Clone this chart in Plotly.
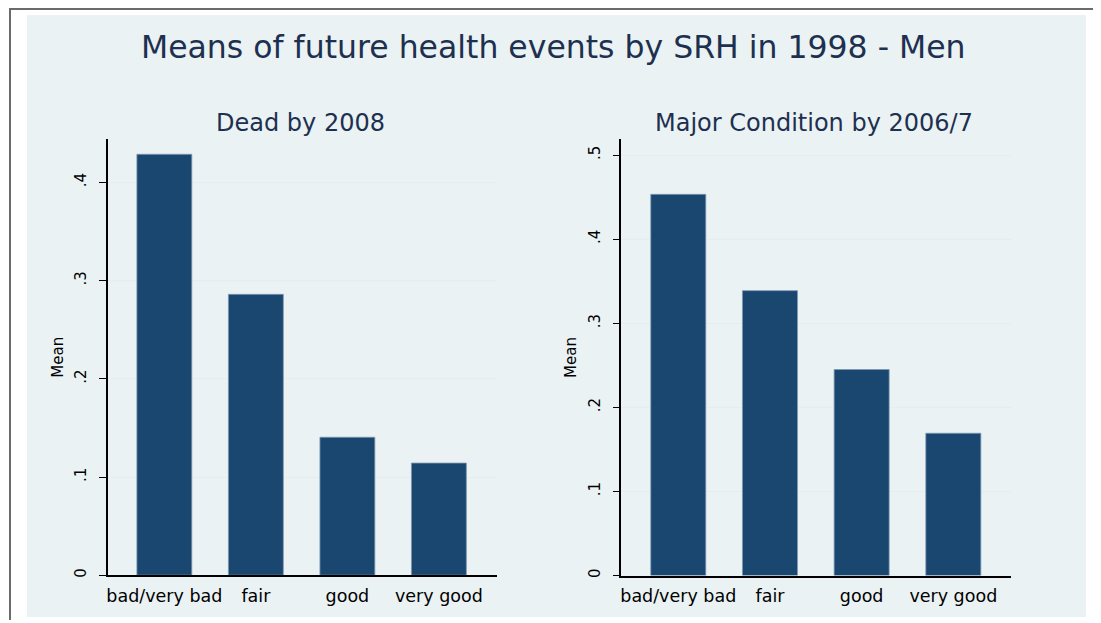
import plotly.graph_objects as go

categories = ["bad/very bad", "fair", "good", "very good"]
dead_by_2008 = [0.4286, 0.286, 0.1405, 0.1142]
major_condition = [0.4533, 0.3388, 0.245, 0.1692]
dead_ticks = [0, 0.1, 0.2, 0.3, 0.4]
dead_ticklabels = ["0", ".1", ".2", ".3", ".4"]
major_ticks = [0, 0.1, 0.2, 0.3, 0.4, 0.5]
major_ticklabels = ["0", ".1", ".2", ".3", ".4", ".5"]

main_title = "Means of future health events by SRH in 1998 - Men"
sub_titles = ["Dead by 2008", "Major Condition by 2006/7"]

# page body has an 8px margin, so the figure is placed at (8, 8)
OFF = 8
W, H = 1101 - OFF, 623 - OFF
BAR = "#1a476f"
BG = "#eaf2f3"
TITLE_C = "#1e3050"
FONT = "DejaVu Sans"

fig = go.Figure()
fig.add_trace(go.Bar(x=[0, 1, 2, 3], y=dead_by_2008, width=0.6,
                     marker=dict(color=BAR, line=dict(color="#7f97b2", width=0.8)),
                     xaxis="x", yaxis="y", showlegend=False))
fig.add_trace(go.Bar(x=[0, 1, 2, 3], y=major_condition, width=0.6,
                     marker=dict(color=BAR, line=dict(color="#7f97b2", width=0.8)),
                     xaxis="x2", yaxis="y2", showlegend=False))

def px_x(v):
    return (v - OFF) / W

def px_y(v):
    return 1 - (v - OFF) / H

xcommon = dict(range=[-0.62, 3.63], tickmode="array", tickvals=[0, 1, 2, 3],
               ticktext=categories, showline=True, linecolor="#000000", linewidth=1.5,
               ticks="", showgrid=False, zeroline=False, ticklabelstandoff=4,
               tickfont=dict(family=FONT, size=17.5, color="#000000"), fixedrange=True)
ycommon = dict(showline=True, linecolor="#000000", linewidth=1.5, ticks="outside",
               ticklen=7, tickwidth=1, tickcolor="#000000", tickangle=-90,
               showgrid=True, gridcolor="#e4eef0", gridwidth=1.2, zeroline=False,
               tickfont=dict(family=FONT, size=15, color="#000000"),
               ticklabelstandoff=7,
               title=dict(text="Mean", font=dict(family=FONT, size=15, color="#000000"), standoff=5),
               fixedrange=True)

fig.update_layout(
    width=W, height=H,
    margin=dict(l=0, r=0, t=0, b=0),
    paper_bgcolor="#ffffff",
    plot_bgcolor="#ffffff",
    bargap=0.4,
    xaxis=dict(domain=[px_x(106.7), px_x(496)], anchor="y", **xcommon),
    xaxis2=dict(domain=[px_x(621), px_x(1011)], anchor="y2", **xcommon),
    yaxis=dict(domain=[px_y(578), px_y(140)], anchor="x", range=[0, 0.4438],
               tickmode="array", tickvals=dead_ticks, ticktext=dead_ticklabels, **ycommon),
    yaxis2=dict(domain=[px_y(578.3), px_y(140)], anchor="x2", range=[0, 0.5187],
                tickmode="array", tickvals=major_ticks, ticktext=major_ticklabels, **ycommon),
    shapes=[
        dict(type="rect", xref="paper", yref="paper", x0=px_x(26), x1=px_x(1086),
             y0=px_y(620), y1=px_y(15), fillcolor=BG, line=dict(width=0), layer="below"),
        dict(type="line", xref="paper", yref="paper", x0=0, x1=1,
             y0=1 - 1 / H, y1=1 - 1 / H, line=dict(color="#6b6b6b", width=2)),
        dict(type="line", xref="paper", yref="paper", x0=1 / W, x1=1 / W,
             y0=0, y1=1, line=dict(color="#6b6b6b", width=2)),
    ],
    annotations=[
        dict(text=main_title, xref="paper", yref="paper", x=px_x(553), y=px_y(47),
             xanchor="center", yanchor="middle", showarrow=False,
             font=dict(family=FONT, size=31.5, color=TITLE_C)),
        dict(text=sub_titles[0], xref="paper", yref="paper", x=px_x(300), y=px_y(124),
             xanchor="center", yanchor="middle", showarrow=False,
             font=dict(family=FONT, size=24, color=TITLE_C)),
        dict(text=sub_titles[1], xref="paper", yref="paper", x=px_x(814), y=px_y(124),
             xanchor="center", yanchor="middle", showarrow=False,
             font=dict(family=FONT, size=24, color=TITLE_C)),
    ],
)

fig.write_html("out.html")
